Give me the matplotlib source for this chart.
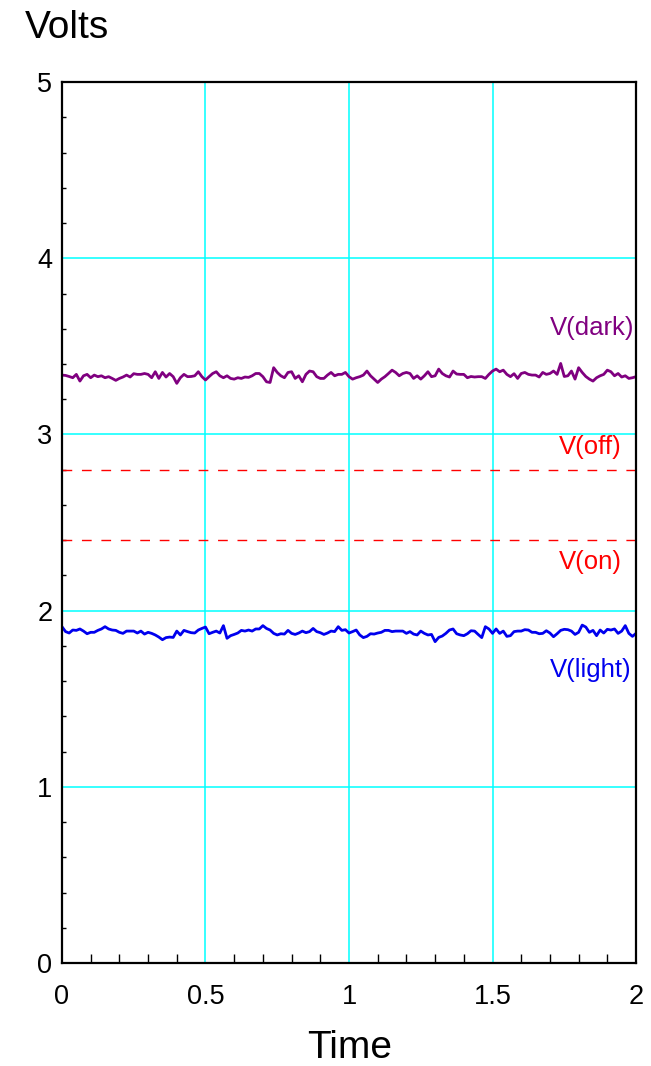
import numpy as np
import matplotlib.pyplot as plt
from matplotlib.ticker import MultipleLocator

plt.rcParams['font.family'] = ['Liberation Sans', 'DejaVu Sans']

# sampled voltages, one every 0.0125 s from 0 to 2 s
dt = 0.0125
v_dark = [
    3.337, 3.335, 3.329, 3.322, 3.341, 3.303, 3.333, 3.341, 3.322, 3.337,
    3.328, 3.333, 3.322, 3.328, 3.318, 3.307, 3.318, 3.326, 3.337, 3.326,
    3.345, 3.341, 3.341, 3.346, 3.341, 3.322, 3.356, 3.318, 3.352, 3.326,
    3.346, 3.328, 3.290, 3.322, 3.341, 3.328, 3.329, 3.333, 3.356, 3.328,
    3.309, 3.328, 3.346, 3.356, 3.333, 3.322, 3.333, 3.318, 3.314, 3.322,
    3.318, 3.326, 3.324, 3.333, 3.346, 3.346, 3.328, 3.299, 3.295, 3.379,
    3.352, 3.333, 3.322, 3.352, 3.356, 3.318, 3.333, 3.299, 3.341, 3.360,
    3.356, 3.328, 3.318, 3.318, 3.337, 3.352, 3.333, 3.341, 3.341, 3.352,
    3.328, 3.314, 3.322, 3.328, 3.337, 3.360, 3.333, 3.314, 3.295, 3.314,
    3.328, 3.346, 3.365, 3.352, 3.333, 3.346, 3.352, 3.346, 3.318, 3.333,
    3.314, 3.333, 3.356, 3.328, 3.333, 3.371, 3.346, 3.333, 3.326, 3.360,
    3.343, 3.341, 3.341, 3.322, 3.329, 3.326, 3.328, 3.328, 3.318, 3.341,
    3.360, 3.371, 3.356, 3.365, 3.341, 3.328, 3.345, 3.318, 3.346, 3.352,
    3.341, 3.337, 3.337, 3.326, 3.352, 3.341, 3.346, 3.360, 3.341, 3.403,
    3.329, 3.333, 3.360, 3.314, 3.379, 3.352, 3.329, 3.314, 3.303, 3.322,
    3.333, 3.341, 3.365, 3.356, 3.333, 3.346, 3.326, 3.333, 3.318, 3.322,
    3.328,
]
v_light = [
    1.909, 1.881, 1.873, 1.890, 1.888, 1.896, 1.884, 1.869, 1.877, 1.877,
    1.888, 1.896, 1.909, 1.896, 1.890, 1.888, 1.877, 1.871, 1.884, 1.884,
    1.884, 1.873, 1.884, 1.867, 1.877, 1.871, 1.862, 1.850, 1.835, 1.847,
    1.850, 1.848, 1.884, 1.862, 1.888, 1.881, 1.875, 1.873, 1.890, 1.899,
    1.907, 1.869, 1.877, 1.884, 1.873, 1.915, 1.843, 1.858, 1.865, 1.873,
    1.888, 1.884, 1.890, 1.884, 1.896, 1.896, 1.915, 1.899, 1.890, 1.871,
    1.862, 1.869, 1.867, 1.888, 1.871, 1.865, 1.873, 1.884, 1.875, 1.881,
    1.899, 1.881, 1.875, 1.865, 1.873, 1.884, 1.881, 1.909, 1.888, 1.892,
    1.873, 1.881, 1.890, 1.862, 1.847, 1.854, 1.869, 1.867, 1.873, 1.877,
    1.888, 1.888, 1.881, 1.884, 1.884, 1.884, 1.871, 1.881, 1.867, 1.862,
    1.884, 1.871, 1.862, 1.865, 1.824, 1.848, 1.856, 1.871, 1.890, 1.896,
    1.869, 1.862, 1.858, 1.869, 1.886, 1.884, 1.865, 1.847, 1.909, 1.896,
    1.871, 1.896, 1.871, 1.884, 1.854, 1.858, 1.881, 1.884, 1.884, 1.892,
    1.890, 1.877, 1.877, 1.869, 1.871, 1.886, 1.873, 1.852, 1.869, 1.888,
    1.894, 1.892, 1.884, 1.865, 1.877, 1.918, 1.907, 1.877, 1.888, 1.858,
    1.890, 1.873, 1.894, 1.890, 1.896, 1.871, 1.884, 1.915, 1.871, 1.854,
    1.871,
]
v_off = 2.8
v_on = 2.4

x_ticks = [0, 0.5, 1, 1.5, 2]
x_labels = ['0', '0.5', '1', '1.5', '2']
y_ticks = [0, 1, 2, 3, 4, 5]
y_labels = ['0', '1', '2', '3', '4', '5']

t = np.arange(len(v_dark)) * dt

fig = plt.figure(figsize=(6.51, 10.66), dpi=100)
ax = fig.add_axes([0.0952, 0.0966, 0.8818, 0.8264])

ax.set_xlim(0, 2)
ax.set_ylim(0, 5)

# grid
for gx in x_ticks[1:-1]:
    ax.axvline(gx, color='#00ffff', lw=1.1, zorder=1)
for gy in y_ticks[1:-1]:
    ax.axhline(gy, color='#00ffff', lw=1.1, zorder=1)

ax.axhline(v_off, color='red', lw=1.0, dashes=(7, 7), zorder=2)
ax.axhline(v_on, color='red', lw=1.0, dashes=(7, 7), zorder=2)

ax.plot(t, v_dark, color='#800080', lw=2.0, zorder=3)
ax.plot(t, v_light, color='#0000ee', lw=2.0, zorder=3)

ax.text(1.995, 3.604, 'V(dark)', color='#800080', fontsize=18.5,
        ha='right', va='center')
ax.text(1.95, 2.928, 'V(off)', color='red', fontsize=18.5,
        ha='right', va='center')
ax.text(1.95, 2.276, 'V(on)', color='red', fontsize=18.5,
        ha='right', va='center')
ax.text(1.985, 1.663, 'V(light)', color='#0000ee', fontsize=18.5,
        ha='right', va='center')

ax.set_xticks(x_ticks)
ax.set_xticklabels(x_labels)
ax.set_yticks(y_ticks)
ax.set_yticklabels(y_labels)
ax.xaxis.set_minor_locator(MultipleLocator(0.1))
ax.yaxis.set_minor_locator(MultipleLocator(0.2))

ax.tick_params(axis='both', which='major', length=0, labelsize=19.5)
ax.tick_params(axis='x', which='major', pad=15)
ax.tick_params(axis='y', which='major', pad=7)
ax.tick_params(axis='x', which='minor', direction='in', length=6.5, width=1)
ax.tick_params(axis='y', which='minor', direction='in', length=3, width=1)

for s in ax.spines.values():
    s.set_linewidth(1.6)
    s.set_zorder(4)

fig.text(25 / 651, 1 - 28 / 1066, 'Volts', fontsize=28, ha='left', va='center')
fig.text(350 / 651, 1 - 1048 / 1066, 'Time', fontsize=28, ha='center', va='center')

fig.savefig('out.png', dpi=100)
